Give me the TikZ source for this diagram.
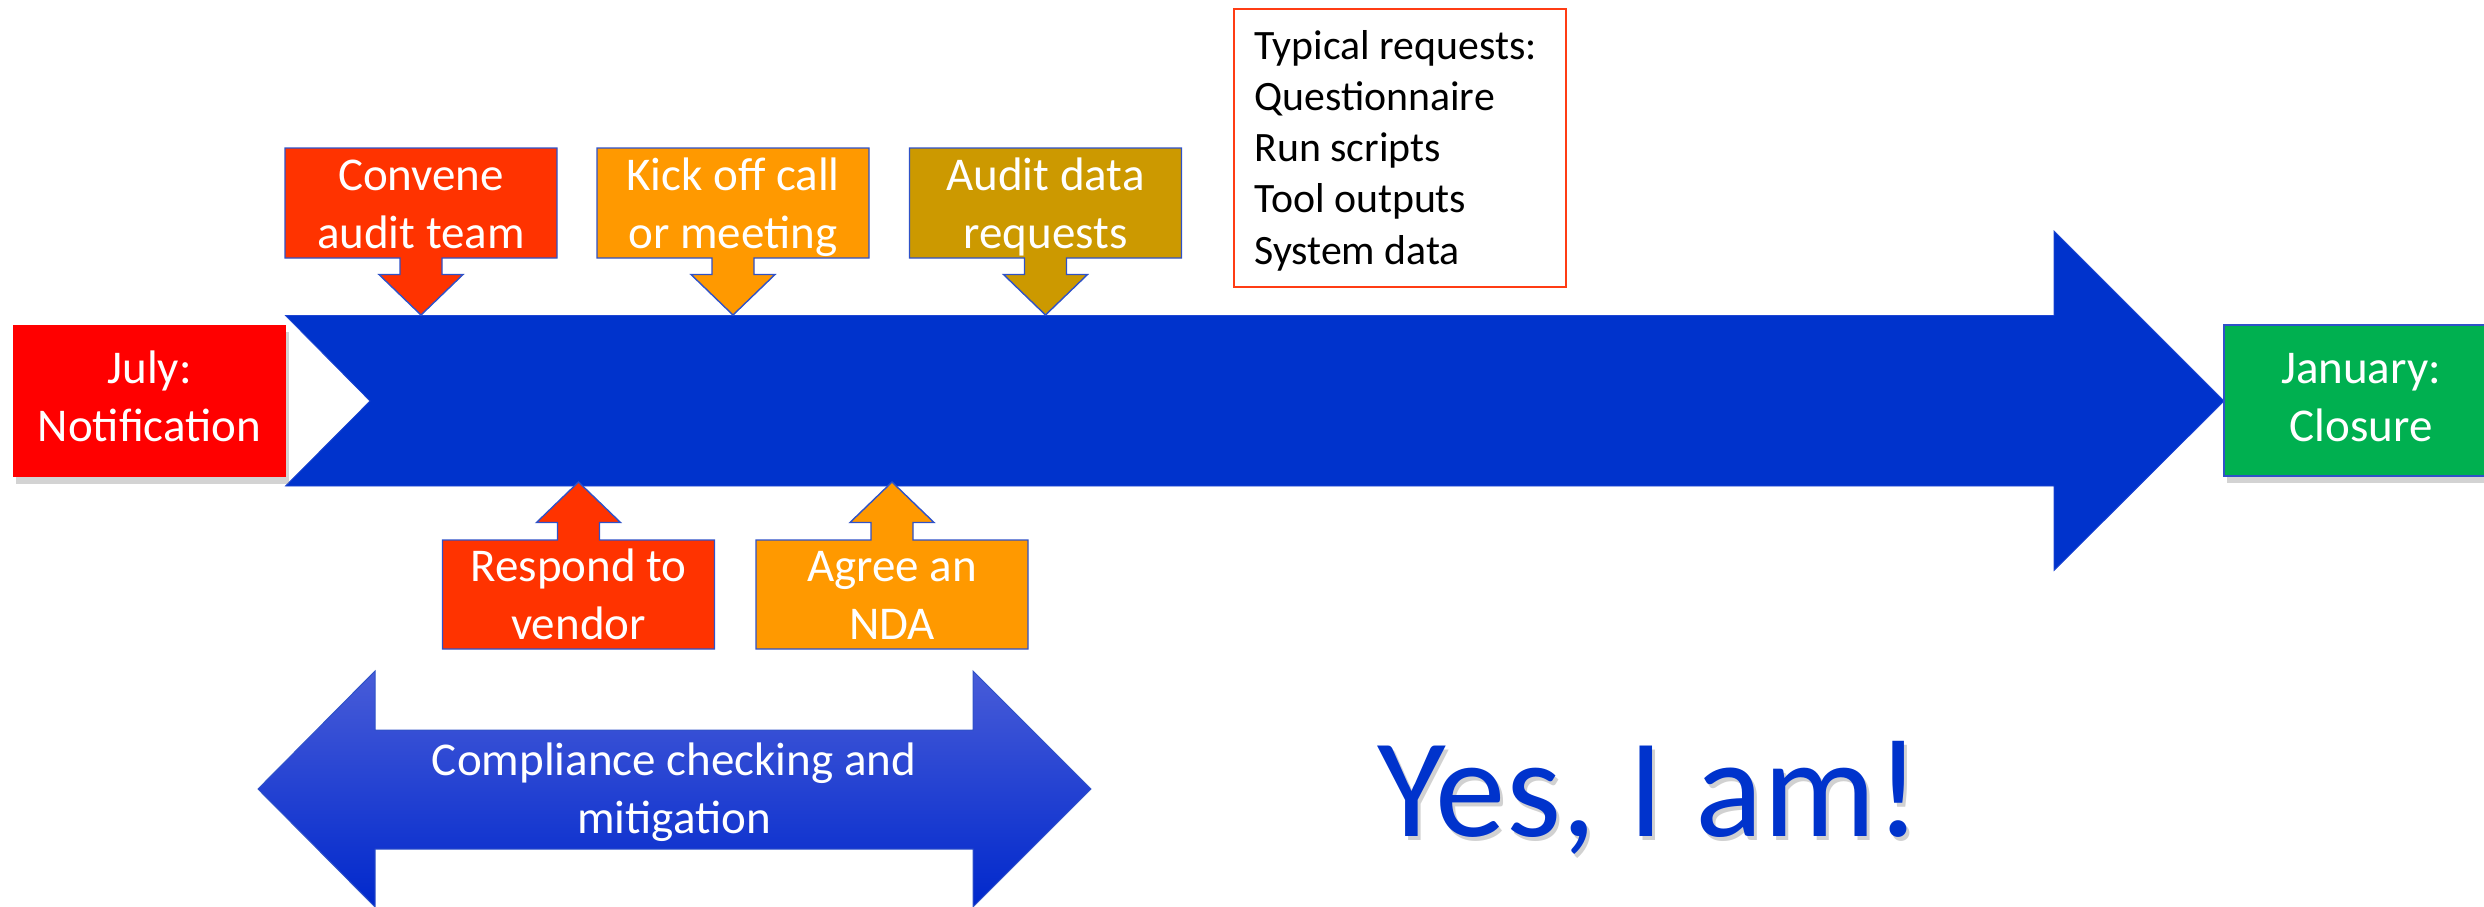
\documentclass[tikz,border=0pt]{standalone}
\usepackage{fontspec}
\setmainfont{Carlito}
\usetikzlibrary{shadows}
\definecolor{mainblue}{RGB}{0,51,204}
\definecolor{redorange}{RGB}{255,51,0}
\definecolor{amber}{RGB}{255,153,0}
\definecolor{mustard}{RGB}{204,153,0}
\definecolor{julyred}{RGB}{255,0,0}
\definecolor{jangreen}{RGB}{0,176,80}
\definecolor{edgeblue}{RGB}{47,82,200}
\definecolor{shaftlight}{RGB}{72,92,216}
\definecolor{shaftdark}{RGB}{0,40,204}
\definecolor{typred}{RGB}{255,60,20}
\newcommand\DownCallout[2]{%
 \filldraw[callout, fill=#2] ({#1-136},148) -- ({#1+136},148) -- ({#1+136},258) -- ({#1+21},258) -- ({#1+21},274.5) -- ({#1+42},274.5) -- (#1,315) -- ({#1-42},274.5) -- ({#1-21},274.5) -- ({#1-21},258) -- ({#1-136},258) -- cycle;}
\newcommand\UpCallout[2]{%
 \filldraw[callout, fill=#2] ({#1-136},649) -- ({#1+136},649) -- ({#1+136},540) -- ({#1+21},540) -- ({#1+21},522.5) -- ({#1+42},522.5) -- (#1,482) -- ({#1-42},522.5) -- ({#1-21},522.5) -- ({#1-21},540) -- ({#1-136},540) -- cycle;}
\begin{document}
\begin{tikzpicture}[x=0.5pt,y=-0.5pt,
  boxtext/.style={text=white, align=center, inner sep=0pt, font=\fontsize{23.5}{29}\selectfont},
  callout/.style={draw=edgeblue, line width=0.7pt, line join=miter},
  endbox/.style={minimum width=136.5pt, minimum height=76pt, inner sep=0pt, text=white, align=center,
     font=\fontsize{23.5}{29}\selectfont,
     drop shadow={opacity=0.35, shadow xshift=1.5pt, shadow yshift=-3.5pt}},
  bigtext/.style={anchor=base, inner sep=0pt, font=\fontsize{70.5}{84}\selectfont},
]
\useasboundingbox (0,0) rectangle (2484,906);
\clip (0,0) rectangle (2484,906);

% main timeline arrow
\filldraw[fill=mainblue, draw={rgb,255:red,30;green,70;blue,210}, line width=0.4pt]
  (285.5,315.5) -- (2054,315.5) -- (2054,231) -- (2224,401) -- (2054,570.5) -- (2054,486)
  -- (285.5,486) -- (370,401) -- cycle;

% end boxes
\node[endbox, fill=julyred] (july) at (149.5,401) {\strut July:\\\strut Notification};
\node[endbox, fill=jangreen, draw=edgeblue, line width=0.7pt, minimum width=137pt, minimum height=75.5pt]
  (january) at (2361,400.5) {\strut January:\\\strut Closure};

% callouts above
\DownCallout{421}{redorange}
\DownCallout{733}{amber}
\DownCallout{1045.5}{mustard}
\node[boxtext] (convene) at (421,207.4) {\strut Convene\\\strut audit team};
\node[boxtext] (kickoff) at (733,207.4) {\strut Kick off call\\\strut or meeting};
\node[boxtext] (auditdata) at (1045.5,207.4) {\strut Audit data\\\strut requests};

% callouts below
\UpCallout{578.5}{redorange}
\UpCallout{892}{amber}
\node[boxtext] (respond) at (578.5,598.4) {\strut Respond to\\\strut vendor};
\node[boxtext] (nda) at (892,598.4) {\strut Agree an\\\strut NDA};

% typical requests box
\draw[typred, line width=1pt] (1234,9) rectangle (1566,287);
\node[anchor=west, align=left, inner sep=0pt, font=\fontsize{20.9}{25.6}\selectfont] (typical) at (1254,151.4)
  {\strut Typical requests:\\\strut Questionnaire\\\strut Run scripts\\\strut Tool outputs\\\strut System data};

% double arrow
\shadedraw[top color=shaftlight, bottom color=shaftdark, draw=edgeblue, line width=0.5pt]
  (258,789) -- (375,671) -- (375,730) -- (973,730) -- (973,671) -- (1091,789) -- (973,907)
  -- (973,849) -- (375,849) -- (375,907) -- cycle;
\node[boxtext] (compliance) at (674,793) {\strut Compliance checking and\\\strut mitigation};

% big text with faint shadow
\node[bigtext, text=black, opacity=0.18] (yesshadow) at (1652.5,840) {Yes, I am!};
\node[bigtext, text=mainblue] (yes) at (1649.5,836) {Yes, I am!};
\end{tikzpicture}
\end{document}
